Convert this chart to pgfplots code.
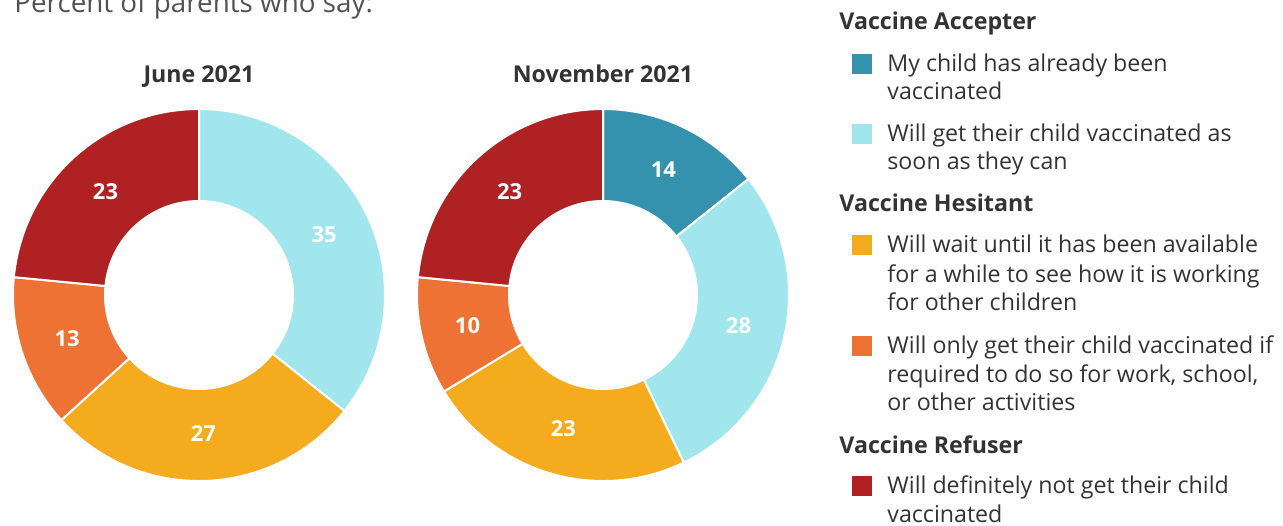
\documentclass[border=0pt]{standalone}
\usepackage{pgfplots}
\pgfplotsset{compat=1.18}
\usepackage{pgfplotstable}
\usetikzlibrary{calc}
\usepackage{fontspec}
\setmainfont{Open Sans}

\definecolor{accDone}{HTML}{3592AE}
\definecolor{accSoon}{HTML}{A1E6EC}
\definecolor{hesWait}{HTML}{F5AB1E}
\definecolor{hesReq}{HTML}{EE7234}
\definecolor{refuser}{HTML}{B02124}
\definecolor{txt}{HTML}{333333}

% one table per donut, slices clockwise from 12 o'clock
\pgfplotstableread{
value colour
35 accSoon
27 hesWait
13 hesReq
23 refuser
}\junetable
\pgfplotstableread{
value colour
14 accDone
28 accSoon
23 hesWait
10 hesReq
23 refuser
}\novtable

\def\Ro{93pt}\def\Ri{47pt}\def\Rm{69.5pt}
\newcommand\valfont{\bfseries\fontsize{11}{13}\selectfont}

% draws the ring slices of table #1 inside the current axis
\newcommand\donut[1]{%
  \pgfplotstablegetrowsof{#1}\pgfmathtruncatemacro\nrows{\pgfplotsretval-1}%
  \def\total{0}%
  \pgfplotsforeachungrouped \i in {0,...,\nrows}{%
    \pgfplotstablegetelem{\i}{value}\of{#1}%
    \pgfmathsetmacro\total{\total+\pgfplotsretval}}%
  \def\cum{0}%
  \pgfplotsforeachungrouped \i in {0,...,\nrows}{%
    \pgfplotstablegetelem{\i}{value}\of{#1}\let\val\pgfplotsretval
    \pgfplotstablegetelem{\i}{colour}\of{#1}\let\col\pgfplotsretval
    % 360*(cum/total), not 360*cum/total: 360*98 overflows pgfmath
    \pgfmathsetmacro\sa{90-360*(\cum/\total)}%
    \pgfmathsetmacro\cum{\cum+\val}%
    \pgfmathsetmacro\ea{90-360*(\cum/\total)}%
    \pgfmathsetmacro\ma{(\sa+\ea)/2}%
    \pgfmathtruncatemacro\lab{\val}%
    \edef\temp{%
      \noexpand\fill[\col, draw=white, line width=1pt]
        ($(axis cs:0,0)+(\sa:\Ro)$) arc[start angle=\sa, end angle=\ea, radius=\Ro]
        -- ($(axis cs:0,0)+(\ea:\Ri)$) arc[start angle=\ea, end angle=\sa, radius=\Ri] -- cycle;
      \noexpand\node[text=white, font=\noexpand\valfont] at ($(axis cs:0,0)+(\ma:\Rm)$) {\lab};}%
    \temp}%
}

\pgfplotsset{donutaxis/.style={
  hide axis, clip=false, x=93pt, y=93pt,
  xmin=-1, xmax=1, ymin=-1, ymax=1, anchor=center}}

\newcommand\bodyfont{\fontsize{11.6}{14}\selectfont}
\newcommand\headfont{\bfseries\fontsize{11.6}{14}\selectfont}

\begin{document}
\begin{tikzpicture}[x=0.5pt, y=-0.5pt]
% 1 unit = 1 px of the 1283x525 reference, y downwards
\node[anchor=base west, text=txt!85, font=\fontsize{13.9}{16}\selectfont, inner sep=0pt] at (14,12.5) {Percent of parents who say:};

\node[anchor=base, inner sep=0pt, text=txt, font=\headfont] at (199,82.5) {June 2021};
\node[anchor=base, inner sep=0pt, text=txt, font=\headfont] at (603,82.5) {November 2021};

\begin{axis}[donutaxis, at={(99.5pt,-147.5pt)}]
\donut{\junetable}
\end{axis}
\begin{axis}[donutaxis, at={(301.5pt,-147.5pt)}]
\donut{\novtable}
\end{axis}

% legend, one node per line
\begin{scope}[every node/.style={anchor=base west, inner sep=0pt, text=txt, font=\bodyfont}]
\node[font=\headfont] at (839,29) {Vaccine Accepter};
\fill[accDone] (852,54) rectangle (872,74);
\node at (887,71) {My child has already been};
\node at (887,99) {vaccinated};
\fill[accSoon] (852,124) rectangle (872,144);
\node at (887,141) {Will get their child vaccinated as};
\node at (887,169) {soon as they can};
\node[font=\headfont] at (839,211) {Vaccine Hesitant};
\fill[hesWait] (852,235) rectangle (872,255);
\node at (887,252) {Will wait until it has been available};
\node at (887,282) {for a while to see how it is working};
\node at (887,310) {for other children};
\fill[hesReq] (852,336) rectangle (872,356);
\node at (887,353) {Will only get their child vaccinated if};
\node at (887,382) {required to do so for work, school,};
\node at (887,410) {or other activities};
\node[font=\headfont] at (839,453) {Vaccine Refuser};
\fill[refuser] (852,476) rectangle (872,496);
\node at (887,493) {Will definitely not get their child};
\node at (887,522) {vaccinated};
\end{scope}

\pgfresetboundingbox
\path[use as bounding box] (0,0) rectangle (1283,525);
\end{tikzpicture}
\end{document}
